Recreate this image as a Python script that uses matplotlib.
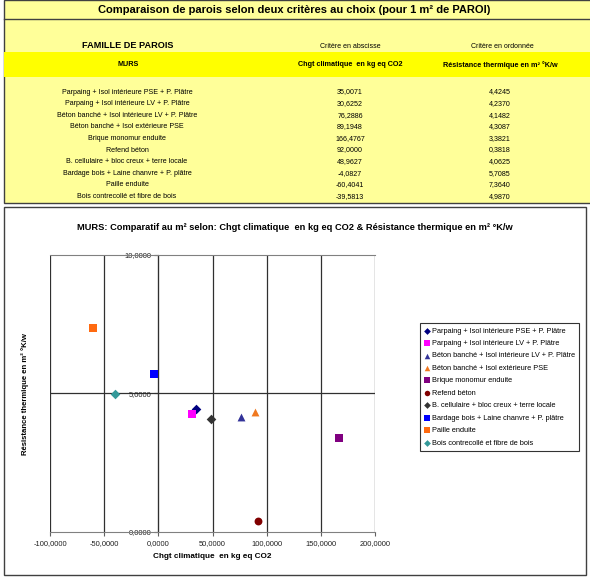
import matplotlib
matplotlib.use('Agg')
import matplotlib.pyplot as plt
from matplotlib.patches import Rectangle
from matplotlib.lines import Line2D
from matplotlib.ticker import FuncFormatter

plt.rcParams['font.family'] = ['Liberation Sans', 'DejaVu Sans']

# data
murs = ['Parpaing + Isol intérieure PSE + P. Plâtre',
        'Parpaing + Isol intérieure LV + P. Plâtre',
        'Béton banché + Isol intérieure LV + P. Plâtre',
        'Béton banché + Isol extérieure PSE',
        'Brique monomur enduite',
        'Refend béton',
        'B. cellulaire + bloc creux + terre locale',
        'Bardage bois + Laine chanvre + P. plâtre',
        'Paille enduite',
        'Bois contrecollé et fibre de bois']
chgt_climatique = [35.0071, 30.6252, 76.2886, 89.1948, 166.4767,
                   92.0000, 48.9627, -4.0827, -60.4041, -39.5813]
resistance = [4.4245, 4.2370, 4.1482, 4.3087, 3.3821,
              0.3818, 4.0625, 5.7085, 7.3640, 4.9870]
marqueurs = ['D', 's', '^', '^', 's', 'o', 'D', 's', 's', 'D']
couleurs = ['#000080', '#FF00FF', '#333399', '#F07820', '#800080',
            '#800000', '#333333', '#0000FF', '#FF6A10', '#339999']
x_ticks = [-100, -50, 0, 50, 100, 150, 200]
y_ticks = [0, 5, 10]

titre = 'Comparaison de parois selon deux critères au choix (pour 1 m² de PAROI)'
x_titre = 'Chgt climatique  en kg eq CO2'
y_titre = 'Résistance thermique en m² °K/w'

W, H = 590, 578
fig = plt.figure(figsize=(W / 100, H / 100), dpi=100)


def fx(x):
    return x / W


def fy(y):
    return 1 - y / H


def fmt(v):
    return ('%.4f' % v).replace('.', ',')


def box(x0, y0, x1, y1, **kw):
    r = Rectangle((fx(x0), fy(y1)), fx(x1) - fx(x0), fy(y0) - fy(y1),
                  transform=fig.transFigure, zorder=-5, **kw)
    fig.add_artist(r)


# table panel (yellow)
box(4, 0, 592, 203, facecolor='#FFFF99', edgecolor='#404040', linewidth=1)
box(4, 52, 592, 77, facecolor='#FFFF00', edgecolor='none')
fig.add_artist(Line2D([fx(4), fx(590)], [fy(19), fy(19)], color='#404040',
                      linewidth=1, transform=fig.transFigure, zorder=-4))
fig.text(fx(294), fy(10), titre, ha='center', va='center',
         fontsize=8.0, fontweight='bold')
fig.text(fx(128), fy(46), 'FAMILLE DE PAROIS', ha='center', va='center',
         fontsize=6.6, fontweight='bold')
fig.text(fx(350), fy(46), 'Critère en abscisse', ha='center', va='center', fontsize=5)
fig.text(fx(502), fy(46), 'Critère en ordonnée', ha='center', va='center', fontsize=5)
fig.text(fx(128), fy(65), 'MURS', ha='center', va='center', fontsize=5.2, fontweight='bold')
fig.text(fx(350), fy(65), x_titre, ha='center', va='center', fontsize=5.2, fontweight='bold')
fig.text(fx(500), fy(65), y_titre, ha='center', va='center', fontsize=5.2, fontweight='bold')
for i, nom in enumerate(murs):
    y = 92 + i * 11.6
    fig.text(fx(127), fy(y), nom, ha='center', va='center', fontsize=5.1)
    fig.text(fx(350), fy(y), fmt(chgt_climatique[i]), ha='center', va='center', fontsize=5.1)
    fig.text(fx(500), fy(y), fmt(resistance[i]), ha='center', va='center', fontsize=5.1)

# chart panel
box(4, 207, 586, 575, facecolor='white', edgecolor='#404040', linewidth=1)
fig.text(fx(295), fy(228),
         'MURS: Comparatif au m² selon: ' + x_titre + ' & ' + y_titre,
         ha='center', va='center', fontsize=6.7, fontweight='bold')

ax = fig.add_axes([fx(50), fy(531.5), fx(375) - fx(50), fy(255) - fy(531.5)])
ax.set_xlim(x_ticks[0], x_ticks[-1])
ax.set_ylim(y_ticks[0], y_ticks[-1])
ax.patch.set_alpha(0)
for xv in x_ticks:
    ax.axvline(xv, color='#303030', linewidth=0.9, zorder=1)
ax.axhline(5, color='#303030', linewidth=0.9, zorder=1)
ax.spines['right'].set_visible(False)
ax.spines['left'].set_position(('data', 0))
ax.spines['left'].set_color('#303030')
ax.spines['top'].set_color('#808080')
ax.spines['bottom'].set_color('#808080')
ax.set_xticks(x_ticks)
ax.set_yticks(y_ticks)
ax.xaxis.set_major_formatter(FuncFormatter(lambda v, p: fmt(v)))
ax.yaxis.set_major_formatter(FuncFormatter(lambda v, p: fmt(v)))
ax.tick_params(axis='x', labelsize=5.4, length=3, width=0.8, color='#606060',
               pad=3, labelcolor='#202020')
ax.tick_params(axis='y', labelsize=5.4, length=3, width=0.8, color='#303030',
               pad=2, labelcolor='#202020')

for i, nom in enumerate(murs):
    taille = 24 if marqueurs[i] == 'D' else 32
    ax.scatter(chgt_climatique[i], resistance[i], marker=marqueurs[i],
               s=taille, color=couleurs[i], label=nom, zorder=3,
               linewidths=0)

fig.text(fx(25), fy(394), y_titre, rotation=90, ha='center', va='center',
         fontsize=5.6, fontweight='bold')
fig.text(fx(212), fy(557), x_titre, ha='center', va='center',
         fontsize=5.9, fontweight='bold')

leg = ax.legend(loc='upper left', bbox_to_anchor=(fx(420), fy(323)),
                bbox_transform=fig.transFigure, fontsize=5.3, frameon=True,
                fancybox=False, edgecolor='black', labelspacing=0.72,
                handlelength=0.6, handletextpad=0.4, borderpad=0.6,
                borderaxespad=0, markerscale=0.7)
leg.get_frame().set_linewidth(0.8)

fig.savefig('out.png', dpi=100)
